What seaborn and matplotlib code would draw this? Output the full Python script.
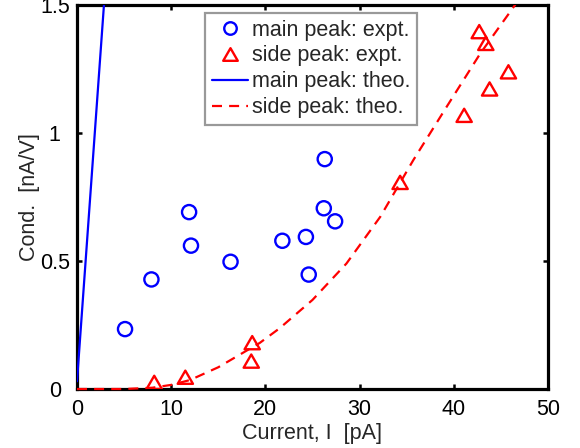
import matplotlib
matplotlib.use("Agg")
import matplotlib.pyplot as plt
import seaborn as sns
import pandas as pd
from matplotlib.lines import Line2D
from matplotlib.path import Path

# Measured conductance peaks
main_current = [5.1, 7.9, 11.9, 12.1, 16.3, 21.8, 24.3, 24.6, 26.3, 26.2, 27.4]
main_cond = [0.234, 0.428, 0.691, 0.560, 0.497, 0.579, 0.594, 0.447, 0.898, 0.706, 0.655]

side_current = [8.2, 11.5, 18.6, 18.5, 34.3, 41.1, 42.7, 43.4, 43.8, 45.8]
side_cond = [0.026, 0.046, 0.181, 0.109, 0.807, 1.069, 1.396, 1.350, 1.172, 1.239]

# Theory curves
main_theo_current = [0.0, 2.9]
main_theo_cond = [0.03, 1.52]

side_theo_current = [0, 5, 8, 10, 12, 15, 19.4, 21.5, 25, 28.6, 32.2, 35.7, 39.2, 42.8, 46.5, 48]
side_theo_cond = [0, 0, 0.005, 0.016, 0.035, 0.085, 0.18, 0.237, 0.348, 0.49, 0.673, 0.894, 1.10, 1.31, 1.5, 1.6]

x_ticks = [0, 10, 20, 30, 40, 50]
y_ticks = [0, 0.5, 1, 1.5]
y_tick_labels = ["0", "0.5", "1", "1.5"]

sns.set_style("white")
plt.rcParams["font.family"] = ["Liberation Sans", "DejaVu Sans"]
plt.rcParams["font.size"] = 15.5

fig = plt.figure(figsize=(5.8, 4.48), dpi=100)
ax = fig.add_axes([77 / 580, 1 - 389 / 448, (548 - 77) / 580, (389 - 5) / 448])

main_df = pd.DataFrame({"I": main_current, "G": main_cond})
side_df = pd.DataFrame({"I": side_current, "G": side_cond})
main_theo = pd.DataFrame({"I": main_theo_current, "G": main_theo_cond})
side_theo = pd.DataFrame({"I": side_theo_current, "G": side_theo_cond})

# closed upward triangle outline
tri = Path([(-1, -0.866), (1, -0.866), (0, 0.866), (-1, -0.866)],
           [Path.MOVETO, Path.LINETO, Path.LINETO, Path.CLOSEPOLY])

sns.lineplot(data=main_theo, x="I", y="G", ax=ax, color="blue", lw=1.6,
             sort=False, estimator=None, zorder=3)
sns.lineplot(data=side_theo, x="I", y="G", ax=ax, color="red", lw=1.6,
             sort=False, estimator=None, zorder=3)
ax.lines[-1].set_dashes([4.5, 3.2])
for ln in ax.lines:
    ln.set_clip_on(False)
    ln.set_clip_box(None)
sns.scatterplot(data=main_df, x="I", y="G", ax=ax, marker="o", s=10.2 ** 2,
                facecolor="none", edgecolor="blue", linewidth=1.7, zorder=4)
sns.scatterplot(data=side_df, x="I", y="G", ax=ax, marker=tri, s=11 ** 2,
                facecolor="none", edgecolor="red", linewidth=1.7, zorder=4)

ax.set_xlim(0, 50)
ax.set_ylim(0, 1.5)
ax.set_xticks(x_ticks)
ax.set_xticklabels([str(t) for t in x_ticks])
ax.set_yticks(y_ticks)
ax.set_yticklabels(y_tick_labels)
for t in ax.get_yticklabels():
    t.set_horizontalalignment("center")
ax.set_xlabel("Current, I  [pA]", labelpad=2.0)
ax.set_ylabel("Cond.  [nA/V]", labelpad=0)

for s in ax.spines.values():
    s.set_linewidth(2.3)
    s.set_color("black")
ax.tick_params(direction="in", length=3.5, width=1.8, top=True, right=True,
               bottom=True, left=True, colors="black", labelsize=15.5)
ax.tick_params(axis="x", pad=7)
ax.tick_params(axis="y", pad=16)

# keep the curves inside the plotting box except along its bottom edge
from matplotlib.transforms import Bbox, TransformedBbox
clip = TransformedBbox(Bbox([[0, -0.02], [1, 1]]), ax.transAxes)
for ln in ax.lines:
    ln.set_clip_on(True)
    ln.set_clip_box(clip)

handles = [
    Line2D([], [], ls="none", marker="o", ms=9, mfc="none", mec="blue", mew=1.7),
    Line2D([], [], ls="none", marker=tri, ms=10.5, mfc="none", mec="red", mew=1.7),
    Line2D([], [], color="blue", lw=1.6),
    Line2D([], [], color="red", lw=1.6, dashes=[4.5, 3.2]),
]
labels = ["main peak: expt.", "side peak: expt.", "main peak: theo.", "side peak: theo."]
leg = ax.legend(handles, labels, loc="upper left", bbox_to_anchor=(0.272, 0.979),
                borderaxespad=0, frameon=True, fancybox=False, handlelength=1.7,
                handletextpad=0.2, labelspacing=0.23, borderpad=0.3, fontsize=15.5)
leg.get_frame().set_edgecolor("#808080")
leg.get_frame().set_linewidth(1.6)
leg.set_zorder(5)

fig.savefig("out.png", dpi=100)
